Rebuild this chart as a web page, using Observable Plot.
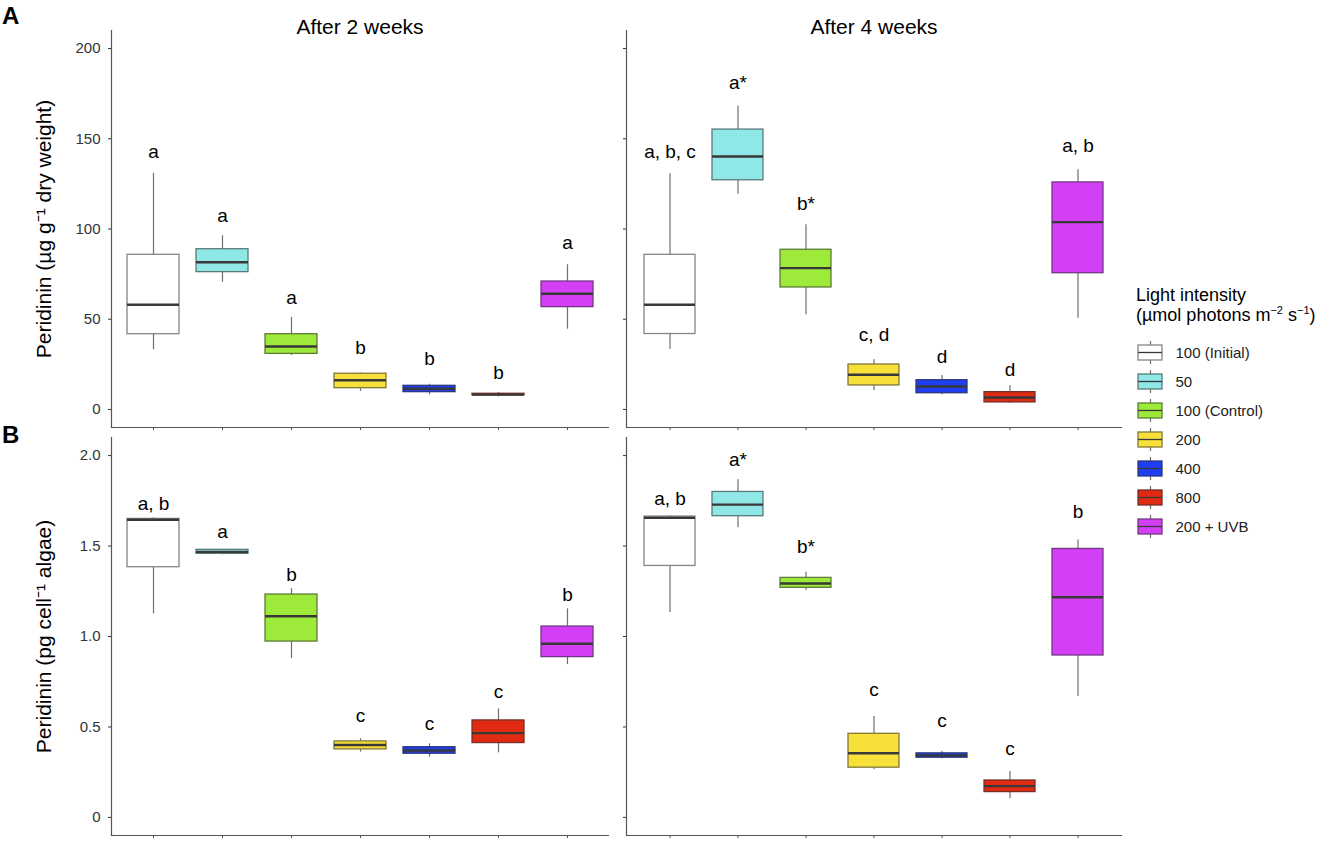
<!DOCTYPE html>
<html>
<head>
<meta charset="utf-8">
<script src="https://cdn.jsdelivr.net/npm/d3@7"></script>
<script src="https://cdn.jsdelivr.net/npm/@observablehq/plot@0.6"></script>
<style>
  html, body { margin: 0; padding: 0; background: #fff; }
  #root { position: relative; width: 1329px; height: 841px; font-family: "Liberation Sans", Arial, sans-serif; color: #000; overflow: hidden; }
  .panelLetter { font-weight: bold; font-size: 24px; line-height: 24px; }
  .legTitle { font-size: 18px; line-height: 20px; white-space: nowrap; }
  sup { font-size: 11px; vertical-align: 7px; line-height: 0; }
</style>
</head>
<body>
<div id="root"></div>
<script>
// ---------- data ----------
const categories = ["100 (Initial)", "50", "100 (Control)", "200", "400", "800", "200 + UVB"];
const fills = ["#ffffff", "#8fe8e5", "#9eea3a", "#f8e03a", "#1f3ff2", "#e02a12", "#d23ff5"];

// A: Peridinin (µg g-1 dry weight), after 2 weeks
const a2Lo  = [33.1, 70.5, 29.9, 10.0, 8.1, 7.0, 44.5];
const a2Q1  = [41.7, 76.1, 30.8, 11.8, 9.6, 7.8, 56.7];
const a2Med = [58.0, 81.6, 34.9, 16.2, 11.5, 8.2, 64.1];
const a2Q3  = [85.7, 88.8, 41.7, 19.8, 13.1, 8.7, 70.9];
const a2Hi  = [130.9, 96.2, 51.0, 20.1, 14.0, 9.3, 80.2];
const a2Let = ["a", "a", "a", "b", "b", "b", "a"];
const a2LetY = [139.6, 103.9, 58.3, 30.5, 24.4, 17.0, 88.8];

// A: after 4 weeks
const a4Lo  = [33.4, 119.3, 52.5, 10.5, 8.1, 3.5, 50.6];
const a4Q1  = [41.8, 127.0, 67.6, 13.3, 9.0, 3.9, 75.5];
const a4Med = [58.0, 140.2, 78.3, 19.2, 12.7, 6.6, 103.8];
const a4Q3  = [85.7, 155.1, 88.5, 24.9, 16.2, 9.6, 125.8];
const a4Hi  = [130.6, 168.2, 102.3, 27.5, 18.8, 13.1, 132.8];
const a4Let = ["a, b, c", "a*", "b*", "c, d", "d", "d", "a, b"];
const a4LetY = [139.1, 177.8, 110.8, 38.0, 26.0, 18.6, 142.9];

// B: Peridinin (pg cell-1 algae), after 2 weeks
const b2Lo  = [1.125, 1.451, 0.877, 0.361, 0.333, 0.357, 0.845];
const b2Q1  = [1.383, 1.457, 0.972, 0.376, 0.352, 0.411, 0.886];
const b2Med = [1.645, 1.468, 1.112, 0.400, 0.370, 0.466, 0.960];
const b2Q3  = [1.650, 1.479, 1.232, 0.420, 0.388, 0.536, 1.055];
const b2Hi  = [1.656, 1.482, 1.264, 0.435, 0.407, 0.600, 1.153];
const b2Let = ["a, b", "a", "b", "c", "c", "c", "b"];
const b2LetY = [1.699, 1.543, 1.309, 0.529, 0.483, 0.659, 1.196];

// B: after 4 weeks
const b4Lo  = [1.133, 1.601, 1.254, 0.264, 0.324, 0.103, 0.669];
const b4Q1  = [1.390, 1.665, 1.269, 0.275, 0.330, 0.140, 0.895];
const b4Med = [1.656, 1.729, 1.293, 0.355, 0.343, 0.173, 1.217];
const b4Q3  = [1.663, 1.799, 1.324, 0.462, 0.354, 0.204, 1.484];
const b4Hi  = [1.669, 1.867, 1.355, 0.558, 0.366, 0.254, 1.534];
const b4Let = ["a, b", "a*", "b*", "c", "c", "c", "b"];
const b4LetY = [1.727, 1.945, 1.461, 0.671, 0.498, 0.345, 1.657];

const aTicks = [0, 50, 100, 150, 200];
const bTicks = [0, 0.5, 1.0, 1.5, 2.0];
const titles = ["After 2 weeks", "After 4 weeks"];
const yLabelA = "Peridinin (µg g⁻¹ dry weight)";
const yLabelB = "Peridinin (pg cell⁻¹ algae)";

// ---------- helpers ----------
const fillOf = new Map(categories.map((c, i) => [c, fills[i]]));
const strokeOf = new Map(categories.map((c, i) => [c, d3.interpolateRgb(fills[i], "#333333")(0.6)]));
const FONT = '"Liberation Sans", Arial, sans-serif';
const root = document.getElementById("root");

function rowsOf(lo, q1, med, q3, hi, lets, letY) {
  return categories.map((c, i) => ({cat: c, lo: lo[i], q1: q1[i], med: med[i], q3: q3[i], hi: hi[i], letter: lets[i], ly: letY[i]}));
}

function place(node, left, top) {
  node.style.position = "absolute";
  node.style.left = left + "px";
  node.style.top = top + "px";
  root.appendChild(node);
}

function panel(o) {
  const marks = [
    Plot.frame({anchor: "left", stroke: "#555", strokeWidth: 1.2}),
    Plot.frame({anchor: "bottom", stroke: "#555", strokeWidth: 1.2}),
    Plot.axisY({ticks: o.ticks, tickSize: 3, tickPadding: 8, fontSize: 15, label: null,
      tickFormat: o.showLabels ? o.fmt : () => "", color: "#333"}),
    Plot.axisX({tickSize: 3, tickFormat: () => "", label: null, color: "#555"}),
    Plot.ruleX(o.rows, {x: "cat", y1: "lo", y2: "hi", stroke: "#6e6e6e", strokeWidth: 1.2}),
    Plot.barY(o.rows, {x: "cat", y1: "q1", y2: "q3", fill: d => fillOf.get(d.cat), stroke: d => strokeOf.get(d.cat), strokeWidth: 1.3}),
    Plot.tickY(o.rows, {x: "cat", y: "med", stroke: "#383838", strokeWidth: 2.4}),
    Plot.text(o.rows, {x: "cat", y: "ly", text: "letter", lineAnchor: "bottom", fontSize: 19, fill: "#000"})
  ];
  if (o.title) marks.push(Plot.text([o.title], {text: d => d, frameAnchor: "top", dy: 3, lineAnchor: "bottom", fontSize: 21, fill: "#000"}));
  if (o.yLabel) marks.push(Plot.text([o.yLabel], {text: d => d, frameAnchor: "left", rotate: -90, dx: -67, textAnchor: "middle", lineAnchor: "middle", fontSize: 21, fill: "#000"}));
  const chart = Plot.plot({
    width: o.width, height: o.height,
    marginLeft: o.mL, marginRight: o.mR, marginTop: o.mT, marginBottom: o.mB,
    style: {fontFamily: FONT, background: "transparent", overflow: "visible"},
    x: {type: "band", domain: categories, paddingInner: 0.25, paddingOuter: 0.225, axis: null},
    y: {domain: o.domain, axis: null},
    marks
  });
  place(chart, o.left, o.top);
}

const fmtB = d => d === 0 ? "0" : d.toFixed(1);

panel({rows: rowsOf(a2Lo, a2Q1, a2Med, a2Q3, a2Hi, a2Let, a2LetY), domain: [-10, 210], ticks: aTicks, fmt: d => String(d), showLabels: true,
  title: titles[0], yLabel: yLabelA, width: 612, height: 434, mL: 111, mR: 4, mT: 30, mB: 7, left: 0, top: 0});
panel({rows: rowsOf(a4Lo, a4Q1, a4Med, a4Q3, a4Hi, a4Let, a4LetY), domain: [-10, 210], ticks: aTicks, fmt: d => String(d), showLabels: false,
  title: titles[1], width: 512, height: 434, mL: 14, mR: 3, mT: 30, mB: 7, left: 612, top: 0});
panel({rows: rowsOf(b2Lo, b2Q1, b2Med, b2Q3, b2Hi, b2Let, b2LetY), domain: [-0.1, 2.1], ticks: bTicks, fmt: fmtB, showLabels: true,
  yLabel: yLabelB, width: 612, height: 407, mL: 111, mR: 4, mT: 3, mB: 6, left: 0, top: 434});
panel({rows: rowsOf(b4Lo, b4Q1, b4Med, b4Q3, b4Hi, b4Let, b4LetY), domain: [-0.1, 2.1], ticks: bTicks, fmt: fmtB, showLabels: false,
  width: 512, height: 407, mL: 14, mR: 3, mT: 3, mB: 6, left: 612, top: 434});

// panel letters
for (const [txt, top] of [["A", 3.7], ["B", 422.7]]) {
  const d = document.createElement("div");
  d.className = "panelLetter";
  d.textContent = txt;
  place(d, 2, top);
}

// legend title
const lt = document.createElement("div");
lt.className = "legTitle";
lt.innerHTML = "Light intensity<br>(µmol photons m<sup>−2</sup> s<sup>−1</sup>)";
place(lt, 1136, 285);

// legend keys
const legend = Plot.plot({
  width: 201, height: 208,
  marginLeft: 0, marginRight: 0, marginTop: 0, marginBottom: 0,
  style: {fontFamily: FONT, background: "transparent", overflow: "visible"},
  x: {type: "band", domain: ["key"], range: [10, 34], padding: 0, axis: null},
  y: {type: "band", domain: categories, range: [0, 208], padding: 0, axis: null},
  marks: [
    Plot.tickX(categories, {x: () => "key", y: d => d, stroke: "#6e6e6e", strokeWidth: 1.2, insetTop: 3, insetBottom: 3}),
    Plot.cell(categories, {x: () => "key", y: d => d, fill: d => fillOf.get(d), stroke: d => strokeOf.get(d), strokeWidth: 1.3, insetTop: 7, insetBottom: 7}),
    Plot.cell(categories, {x: () => "key", y: d => d, fill: "#383838", insetTop: 13.85, insetBottom: 13.85}),
    Plot.text(categories, {x: () => "key", y: d => d, text: d => d, textAnchor: "start", dx: 25, fontSize: 15, fill: "#222"})
  ]
});
place(legend, 1128, 335);
</script>
</body>
</html>
